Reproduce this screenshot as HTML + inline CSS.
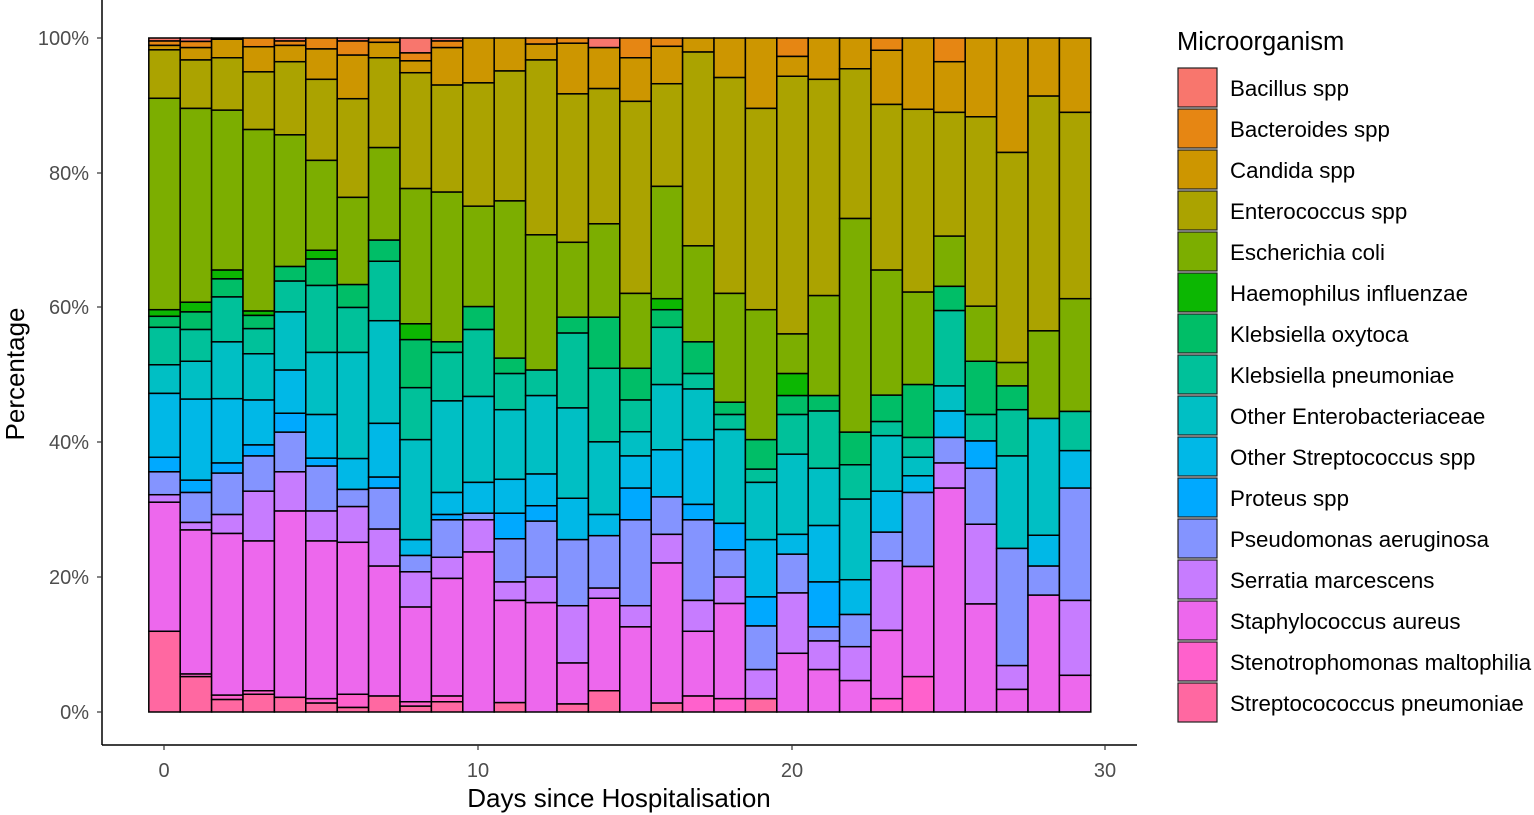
<!DOCTYPE html>
<html><head><meta charset="utf-8">
<style>
html,body{margin:0;padding:0;background:#fff;}
svg{display:block;font-family:"Liberation Sans",sans-serif;}
</style></head>
<body>
<svg id="s" width="1534" height="815" viewBox="0 0 1534 815" xmlns="http://www.w3.org/2000/svg">
<rect width="1534" height="815" fill="#fff"/>
<g id="bars"></g>
<line x1="102" y1="0" x2="102" y2="745" stroke="#000" stroke-width="1.5"/>
<line x1="102" y1="745" x2="1137" y2="745" stroke="#000" stroke-width="1.5"/>
<g fill="#4d4d4d" font-size="20" text-anchor="end">
<text x="89" y="45">100%</text>
<text x="89" y="180">80%</text>
<text x="89" y="314">60%</text>
<text x="89" y="449">40%</text>
<text x="89" y="584">20%</text>
<text x="89" y="719">0%</text>
</g>
<g stroke="#333" stroke-width="1.2">
<line x1="97" y1="38" x2="102" y2="38"/><line x1="97" y1="173" x2="102" y2="173"/>
<line x1="97" y1="307" x2="102" y2="307"/><line x1="97" y1="442" x2="102" y2="442"/>
<line x1="97" y1="577" x2="102" y2="577"/><line x1="97" y1="712" x2="102" y2="712"/>
<line x1="164" y1="745" x2="164" y2="750"/><line x1="478" y1="745" x2="478" y2="750"/>
<line x1="792" y1="745" x2="792" y2="750"/><line x1="1105" y1="745" x2="1105" y2="750"/>
</g>
<g fill="#4d4d4d" font-size="20" text-anchor="middle">
<text x="164" y="777">0</text><text x="478" y="777">10</text>
<text x="792" y="777">20</text><text x="1105" y="777">30</text>
</g>
<text x="619" y="807" font-size="26" text-anchor="middle" fill="#000">Days since Hospitalisation</text>
<text transform="translate(24,374) rotate(-90)" font-size="26" text-anchor="middle" fill="#000">Percentage</text>
<text x="1177" y="50" font-size="25.5" fill="#000">Microorganism</text>
<g id="leg"></g>
</svg>
<script>
var C=["#F8766D","#E68613","#CD9600","#ABA300","#7CAE00","#0CB702","#00BE67","#00C19A","#00BFC4","#00B8E7","#00A9FF","#8494FF","#C77CFF","#ED68ED","#FF61CC","#FF68A1"];
var N=["Bacillus spp","Bacteroides spp","Candida spp","Enterococcus spp","Escherichia coli","Haemophilus influenzae","Klebsiella oxytoca","Klebsiella pneumoniae","Other Enterobacteriaceae","Other Streptococcus spp","Proteus spp","Pseudomonas aeruginosa","Serratia marcescens","Staphylococcus aureus","Stenotrophomonas maltophilia","Streptocococcus pneumoniae"];
var D=[
[[0,25],[1,35],[2,45],[3,155],[4,635],[5,650],[6,675],[7,760],[8,825],[9,970],[10,1003],[11,1055],[12,1072],[13,1365],[15,1548]],
[[0,26],[1,40],[2,68],[3,178],[4,618],[5,640],[6,680],[7,752],[8,838],[9,1022],[10,1050],[11,1118],[12,1135],[13,1462],[14,1468],[15,1548]],
[[0,21],[2,63],[3,182],[4,545],[5,565],[6,606],[7,708],[8,837],[9,983],[10,1006],[11,1100],[12,1143],[13,1510],[14,1520],[15,1548]],
[[1,38],[2,95],[3,226],[4,638],[5,648],[6,678],[7,735],[8,840],[9,942],[10,967],[11,1047],[12,1160],[13,1500],[14,1508],[15,1548]],
[[0,25],[1,35],[2,72],[3,238],[4,537],[6,570],[7,640],[8,772],[9,870],[10,913],[11,1003],[12,1092],[13,1515],[15,1548]],
[[1,43],[2,112],[3,296],[4,500],[5,520],[6,580],[7,732],[8,873],[9,972],[10,990],[11,1092],[12,1160],[13,1518],[14,1528],[15,1548]],
[[0,25],[1,57],[2,156],[3,380],[4,578],[6,630],[7,732],[8,973],[9,1043],[11,1082],[12,1163],[13,1508],[14,1538],[15,1548]],
[[1,28],[2,63],[3,267],[4,477],[6,525],[7,660],[8,893],[9,1015],[10,1040],[11,1133],[12,1217],[13,1512],[15,1548]],
[[0,52],[1,70],[2,97],[3,360],[4,667],[5,703],[6,812],[7,930],[8,1157],[9,1193],[11,1230],[12,1310],[13,1525],[14,1535],[15,1548]],
[[0,25],[1,40],[2,125],[3,368],[4,708],[6,732],[7,842],[8,1050],[9,1100],[10,1112],[11,1197],[12,1245],[13,1512],[14,1525],[15,1548]],
[[2,120],[3,400],[4,628],[6,680],[7,832],[8,1027],[9,1097],[11,1112],[12,1185],[13,1548]],
[[2,93],[3,388],[4,745],[6,780],[7,862],[8,1020],[9,1097],[10,1155],[11,1253],[12,1295],[13,1527],[15,1548]],
[[1,32],[2,68],[3,465],[4,772],[7,830],[8,1008],[9,1080],[10,1115],[11,1242],[12,1300],[13,1548]],
[[1,30],[2,145],[3,482],[4,652],[6,688],[7,858],[8,1063],[9,1157],[11,1307],[12,1437],[13,1530],[15,1548]],
[[0,40],[2,133],[3,440],[4,652],[6,768],[7,935],[8,1100],[9,1148],[11,1267],[12,1290],[13,1500],[15,1548]],
[[1,63],[2,162],[3,598],[4,768],[6,840],[7,912],[8,967],[9,1040],[10,1112],[11,1307],[12,1355],[13,1548]],
[[1,37],[2,122],[3,355],[4,610],[5,635],[6,675],[7,805],[8,953],[9,1060],[11,1145],[12,1210],[13,1528],[15,1548]],
[[2,50],[3,490],[4,708],[6,780],[7,815],[8,930],[9,1077],[10,1112],[11,1295],[12,1365],[13,1512],[14,1548]],
[[2,108],[3,598],[4,845],[6,873],[7,907],[8,1120],[10,1180],[11,1242],[12,1302],[13,1518],[14,1548]],
[[2,178],[3,635],[4,930],[6,997],[7,1027],[8,1157],[9,1287],[10,1353],[11,1452],[12,1518],[15,1548]],
[[1,60],[2,105],[3,690],[4,780],[5,830],[6,873],[7,963],[8,1145],[9,1190],[11,1278],[12,1415],[13,1548]],
[[2,112],[3,603],[4,830],[6,865],[7,995],[8,1125],[9,1253],[10,1355],[11,1387],[12,1452],[13,1548]],
[[2,88],[3,428],[4,913],[6,987],[7,1065],[8,1248],[9,1327],[11,1400],[12,1477],[13,1548]],
[[1,46],[2,169],[3,545],[4,829],[6,889],[7,921],[8,1047],[9,1140],[11,1205],[12,1363],[13,1518],[14,1548]],
[[2,180],[3,595],[4,805],[6,925],[7,970],[8,1012],[9,1050],[11,1218],[13,1468],[14,1548]],
[[1,72],[2,187],[3,468],[4,582],[6,637],[7,808],[8,865],[9,925],[11,983],[12,1040],[13,1548]],
[[2,197],[3,627],[4,752],[6,873],[7,933],[10,995],[11,1122],[12,1303],[13,1548]],
[[2,278],[3,755],[4,808],[6,862],[7,967],[8,1177],[11,1443],[12,1497],[13,1548]],
[[2,150],[3,683],[4,882],[8,1147],[9,1217],[11,1283],[13,1548]],
[[2,187],[3,610],[4,866],[7,955],[9,1040],[11,1295],[12,1465],[13,1548]]
];
var ns="http://www.w3.org/2000/svg";
function el(t,a,p){var e=document.createElementNS(ns,t);for(var k in a)e.setAttribute(k,a[k]);p.appendChild(e);return e;}
var g=document.getElementById("bars");
var cy=function(z){return 30+z*0.4405;};
var W=31.4;
D.forEach(function(bar,d){
  var x=164.5+W*d-W/2, top=38;
  bar.forEach(function(s){
    var b=cy(s[1]); if(s[1]===1548)b=712;
    el("rect",{x:x.toFixed(2),y:top.toFixed(2),width:W.toFixed(2),height:Math.max(0.5,b-top).toFixed(2),fill:C[s[0]],stroke:"#000","stroke-width":"1.5"},g);
    top=b;
  });
});
var lg=document.getElementById("leg");
for(var i=0;i<16;i++){
  var y=68+i*41;
  el("rect",{x:1178,y:y,width:39,height:39,fill:C[i],stroke:"#222","stroke-width":"1.2"},lg);
  var t=el("text",{x:1230,y:y+28,"font-size":"22.3",fill:"#000"},lg);t.textContent=N[i];
}
</script>
</body></html>
